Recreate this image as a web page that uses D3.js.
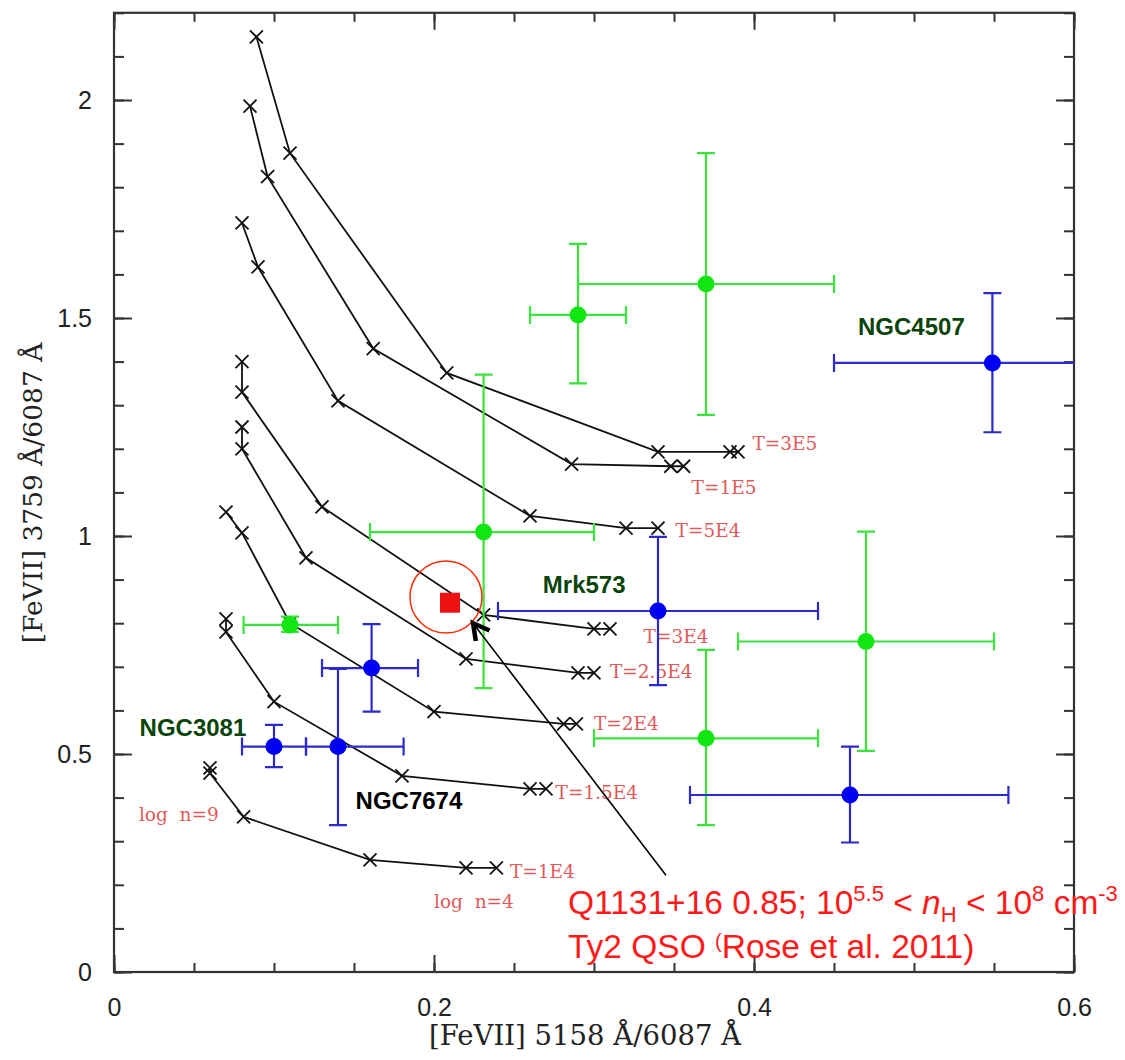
<!DOCTYPE html>
<html>
<head>
<meta charset="utf-8">
<script src="https://cdn.jsdelivr.net/npm/d3@7"></script>
<style>
  body { margin: 0; background: #fff; }
  svg { display: block; }
</style>
</head>
<body>
<div id="container"></div>
<script>
var W = 1125, H = 1060;

// model curves, one per temperature, log n = 9 ... 4
var curveNames = ['T=1E4', 'T=1.5E4', 'T=2E4', 'T=2.5E4', 'T=3E4', 'T=5E4', 'T=1E5', 'T=3E5'];
var curveX = [
  [0.06, 0.06, 0.081, 0.16, 0.22, 0.239],
  [0.07, 0.07, 0.10, 0.18, 0.26, 0.27],
  [0.07, 0.08, 0.11, 0.20, 0.281, 0.289],
  [0.08, 0.08, 0.12, 0.22, 0.29, 0.30],
  [0.08, 0.08, 0.13, 0.231, 0.30, 0.31],
  [0.08, 0.09, 0.14, 0.26, 0.32, 0.34],
  [0.085, 0.096, 0.162, 0.286, 0.348, 0.356],
  [0.089, 0.11, 0.208, 0.34, 0.385, 0.39]
];
var curveY = [
  [0.468, 0.456, 0.356, 0.257, 0.239, 0.239],
  [0.81, 0.78, 0.62, 0.45, 0.42, 0.42],
  [1.055, 1.007, 0.80, 0.597, 0.569, 0.569],
  [1.25, 1.20, 0.95, 0.718, 0.686, 0.686],
  [1.40, 1.33, 1.067, 0.819, 0.787, 0.787],
  [1.718, 1.617, 1.31, 1.046, 1.018, 1.018],
  [1.986, 1.824, 1.43, 1.165, 1.16, 1.16],
  [2.145, 1.878, 1.374, 1.193, 1.193, 1.193]
];
var curveLabelX = [0.2475, 0.276, 0.30, 0.31, 0.331, 0.351, 0.361, 0.399];
var curveLabelY = [0.232, 0.413, 0.571, 0.690, 0.771, 1.014, 1.112, 1.213];

var densityLabels = ['log n=9', 'log n=4'];
var densityLabelX = [0.0156, 0.20];
var densityLabelY = [0.362, 0.161];

// green measurements
var greenX = [0.29, 0.37, 0.231, 0.11, 0.37, 0.47];
var greenY = [1.507, 1.578, 1.009, 0.796, 0.536, 0.758];
var greenXLo = [0.26, 0.29, 0.16, 0.081, 0.30, 0.39];
var greenXHi = [0.32, 0.45, 0.30, 0.14, 0.44, 0.55];
var greenYLo = [1.35, 1.278, 0.651, 0.78, 0.337, 0.507];
var greenYHi = [1.67, 1.878, 1.37, 0.815, 0.739, 1.01];

// blue measurements
var blueX = [0.549, 0.34, 0.46, 0.161, 0.10, 0.14];
var blueY = [1.397, 0.828, 0.406, 0.697, 0.517, 0.517];
var blueXLo = [0.45, 0.24, 0.36, 0.13, 0.08, 0.12];
var blueXHi = [0.65, 0.44, 0.559, 0.19, 0.12, 0.181];
var blueYLo = [1.238, 0.658, 0.297, 0.597, 0.47, 0.337];
var blueYHi = [1.557, 0.998, 0.517, 0.798, 0.567, 0.695];

var objectNames = ['NGC4507', 'Mrk573', 'NGC3081', 'NGC7674'];
var objectX = [0.465, 0.268, 0.016, 0.151];
var objectY = [1.48, 0.89, 0.562, 0.394];
var objectColors = ['#0b440b', '#0b440b', '#0b440b', '#000'];

var qso = { x: 0.21, y: 0.847 };
var ringCenter = [0.2075, 0.860];
var arrowFrom = [0.345, 0.222];
var arrowTo = [0.2244, 0.800];

var xMajor = [0, 0.2, 0.4, 0.6];
var yMajor = [0, 0.5, 1, 1.5, 2];

var x = d3.scaleLinear().domain([0, 0.6]).range([114, 1074]);
var y = d3.scaleLinear().domain([0, 2.2]).range([972, 12.8]);

var svg = d3.select('#container')
  .append('svg')
  .attr('width', W).attr('height', H);

svg.append('defs').append('clipPath').attr('id', 'plot')
  .append('rect')
  .attr('x', x(0)).attr('y', y(2.2))
  .attr('width', x(0.6) - x(0)).attr('height', y(0) - y(2.2));

// ticks, all pointing inward
var xMinor = d3.range(0, 0.601, 0.05);
var yMinor = d3.range(0, 2.201, 0.1);
var tickFont = '"Liberation Sans", Arial, sans-serif';

function addAxis(axis, tx, ty, cls) {
  var g = svg.append('g')
    .attr('class', cls)
    .attr('transform', 'translate(' + tx + ',' + ty + ')')
    .call(axis);
  g.select('.domain').remove();
  g.selectAll('line').attr('stroke', '#333').attr('stroke-width', 2);
  g.selectAll('text')
    .attr('font-family', tickFont)
    .attr('font-size', 25)
    .attr('fill', '#222');
  return g;
}

addAxis(d3.axisBottom(x).tickValues(xMinor).tickSize(-9).tickFormat(''), 0, y(0), 'xminor');
addAxis(d3.axisTop(x).tickValues(xMinor).tickSize(-9).tickFormat(''), 0, y(2.2), 'xminor');
addAxis(d3.axisBottom(x).tickValues(xMajor).tickSize(-17).tickPadding(26)
  .tickFormat(function (d) { return d; }), 0, y(0), 'xmajor');
addAxis(d3.axisTop(x).tickValues(xMajor).tickSize(-17).tickFormat(''), 0, y(2.2), 'xmajor');

addAxis(d3.axisLeft(y).tickValues(yMinor).tickSize(-10).tickFormat(''), x(0), 0, 'yminor');
addAxis(d3.axisRight(y).tickValues(yMinor).tickSize(-10).tickFormat(''), x(0.6), 0, 'yminor');
addAxis(d3.axisLeft(y).tickValues(yMajor).tickSize(-18).tickPadding(22)
  .tickFormat(function (d) { return d; }), x(0), 0, 'ymajor');
addAxis(d3.axisRight(y).tickValues(yMajor).tickSize(-18).tickFormat(''), x(0.6), 0, 'ymajor');

svg.append('rect')
  .attr('x', x(0)).attr('y', y(2.2))
  .attr('width', x(0.6) - x(0)).attr('height', y(0) - y(2.2))
  .attr('fill', 'none').attr('stroke', '#333').attr('stroke-width', 2.2);

// axis titles
svg.append('text')
  .attr('x', 585).attr('y', 1045)
  .attr('text-anchor', 'middle')
  .attr('font-family', '"DejaVu Serif", serif')
  .attr('font-size', 27.5)
  .attr('fill', '#222')
  .text('[FeVII] 5158 Å/6087 Å');

svg.append('text')
  .attr('transform', 'translate(42,493) rotate(-90)')
  .attr('text-anchor', 'middle')
  .attr('font-family', '"DejaVu Serif", serif')
  .attr('font-size', 26.5)
  .attr('fill', '#222')
  .text('[FeVII] 3759 Å/6087 Å');

// model grid
var line = d3.line()
  .x(function (d) { return x(d[0]); })
  .y(function (d) { return y(d[1]); });

var curves = curveNames.map(function (name, i) {
  return curveX[i].map(function (v, j) { return [v, curveY[i][j]]; });
});

var grid = svg.append('g');
grid.selectAll('.curve')
  .data(curves)
  .enter().append('path')
  .attr('class', 'curve')
  .attr('d', line)
  .attr('fill', 'none')
  .attr('stroke', '#111')
  .attr('stroke-width', 1.8);

var cs = 6.5;
grid.selectAll('.cross')
  .data(d3.merge(curves))
  .enter().append('path')
  .attr('class', 'cross')
  .attr('d', function (d) {
    var px = x(d[0]), py = y(d[1]);
    return 'M' + (px - cs) + ',' + (py - cs) + 'L' + (px + cs) + ',' + (py + cs) +
      'M' + (px - cs) + ',' + (py + cs) + 'L' + (px + cs) + ',' + (py - cs);
  })
  .attr('stroke', '#111')
  .attr('stroke-width', 1.8);

var redLabel = '#e05a5a';
svg.selectAll('.tlabel')
  .data(curveNames)
  .enter().append('text')
  .attr('class', 'tlabel')
  .attr('x', function (d, i) { return x(curveLabelX[i]); })
  .attr('y', function (d, i) { return y(curveLabelY[i]); })
  .attr('dy', '0.36em')
  .attr('font-family', '"DejaVu Serif", serif')
  .attr('font-size', 18.5)
  .attr('fill', redLabel)
  .text(function (d) { return d; });

svg.selectAll('.nlabel')
  .data(densityLabels)
  .enter().append('text')
  .attr('class', 'nlabel')
  .attr('x', function (d, i) { return x(densityLabelX[i]); })
  .attr('y', function (d, i) { return y(densityLabelY[i]); })
  .attr('dy', '0.36em')
  .attr('font-family', '"DejaVu Serif", serif')
  .attr('font-size', 18.5)
  .attr('fill', redLabel)
  .attr('xml:space', 'preserve')
  .text(function (d) { return d.replace(' ', '  '); });

// error bars + points
function drawSet(cls, xs, ys, xlo, xhi, ylo, yhi, lineColor, dotColor) {
  var data = xs.map(function (v, i) {
    return { x: v, y: ys[i], xlo: xlo[i], xhi: xhi[i], ylo: ylo[i], yhi: yhi[i] };
  });
  var cap = 9;
  var g = svg.append('g').attr('class', cls).attr('clip-path', 'url(#plot)');
  var bars = g.selectAll('g').data(data).enter().append('g');
  bars.append('path')
    .attr('d', function (d) {
      var px = x(d.x), py = y(d.y);
      return 'M' + x(d.xlo) + ',' + py + 'H' + x(d.xhi) +
        'M' + x(d.xlo) + ',' + (py - cap) + 'V' + (py + cap) +
        'M' + x(d.xhi) + ',' + (py - cap) + 'V' + (py + cap) +
        'M' + px + ',' + y(d.ylo) + 'V' + y(d.yhi) +
        'M' + (px - cap) + ',' + y(d.ylo) + 'H' + (px + cap) +
        'M' + (px - cap) + ',' + y(d.yhi) + 'H' + (px + cap);
    })
    .attr('fill', 'none')
    .attr('stroke', lineColor)
    .attr('stroke-width', 2.2);
  bars.append('circle')
    .attr('cx', function (d) { return x(d.x); })
    .attr('cy', function (d) { return y(d.y); })
    .attr('r', 8.5)
    .attr('fill', dotColor);
}

drawSet('green', greenX, greenY, greenXLo, greenXHi, greenYLo, greenYHi, '#3de33d', '#12e612');
drawSet('blue', blueX, blueY, blueXLo, blueXHi, blueYLo, blueYHi, '#2b2bcc', '#0000f5');

svg.selectAll('.obj')
  .data(objectNames)
  .enter().append('text')
  .attr('class', 'obj')
  .attr('x', function (d, i) { return x(objectX[i]); })
  .attr('y', function (d, i) { return y(objectY[i]); })
  .attr('dy', '0.36em')
  .attr('font-family', '"Liberation Sans", Arial, sans-serif')
  .attr('font-weight', 'bold')
  .attr('font-size', 24)
  .attr('fill', function (d, i) { return objectColors[i]; })
  .text(function (d) { return d; });

// Q1131+16
svg.append('rect')
  .attr('x', x(qso.x) - 10).attr('y', y(qso.y) - 10)
  .attr('width', 20).attr('height', 20)
  .attr('fill', '#ee1111');
svg.append('circle')
  .attr('cx', x(ringCenter[0])).attr('cy', y(ringCenter[1]))
  .attr('r', 36)
  .attr('fill', 'none')
  .attr('stroke', '#ff2a00')
  .attr('stroke-width', 1.5);

var ax0 = x(arrowFrom[0]), ay0 = y(arrowFrom[1]);
var ax1 = x(arrowTo[0]), ay1 = y(arrowTo[1]);
var ang = Math.atan2(ay0 - ay1, ax0 - ax1);
var hl = 18;
svg.append('path')
  .attr('d', 'M' + ax0 + ',' + ay0 + 'L' + ax1 + ',' + ay1)
  .attr('stroke', '#000').attr('stroke-width', 1.6);
svg.append('path')
  .attr('d', 'M' + (ax1 + hl * Math.cos(ang - 0.5)) + ',' + (ay1 + hl * Math.sin(ang - 0.5)) +
    'L' + ax1 + ',' + ay1 +
    'L' + (ax1 + hl * Math.cos(ang + 0.5)) + ',' + (ay1 + hl * Math.sin(ang + 0.5)))
  .attr('fill', 'none')
  .attr('stroke', '#000').attr('stroke-width', 4.5);

var note = svg.append('g')
  .attr('font-family', '"Liberation Sans", Arial, sans-serif')
  .attr('font-size', 33.5)
  .attr('fill', '#ff1a1a');

var l1 = note.append('text').attr('x', 568).attr('y', 914);
l1.append('tspan').text('Q1131+16 0.85; 10');
l1.append('tspan').attr('font-size', 22).attr('dy', -13).text('5.5');
l1.append('tspan').attr('dy', 13).text(' < ');
l1.append('tspan').attr('font-style', 'italic').text('n');
l1.append('tspan').attr('font-size', 22).attr('dy', 8).text('H');
l1.append('tspan').attr('dy', -8).text(' < 10');
l1.append('tspan').attr('font-size', 22).attr('dy', -13).text('8');
l1.append('tspan').attr('dy', 13).text(' cm');
l1.append('tspan').attr('font-size', 22).attr('dy', -13).text('-3');

var l2 = note.append('text').attr('x', 568).attr('y', 958);
l2.append('tspan').text('Ty2 QSO ');
l2.append('tspan').attr('font-size', 20).attr('dy', -10).text('(');
l2.append('tspan').attr('dy', 10).text('Rose et al. 2011)');
</script>
</body>
</html>
